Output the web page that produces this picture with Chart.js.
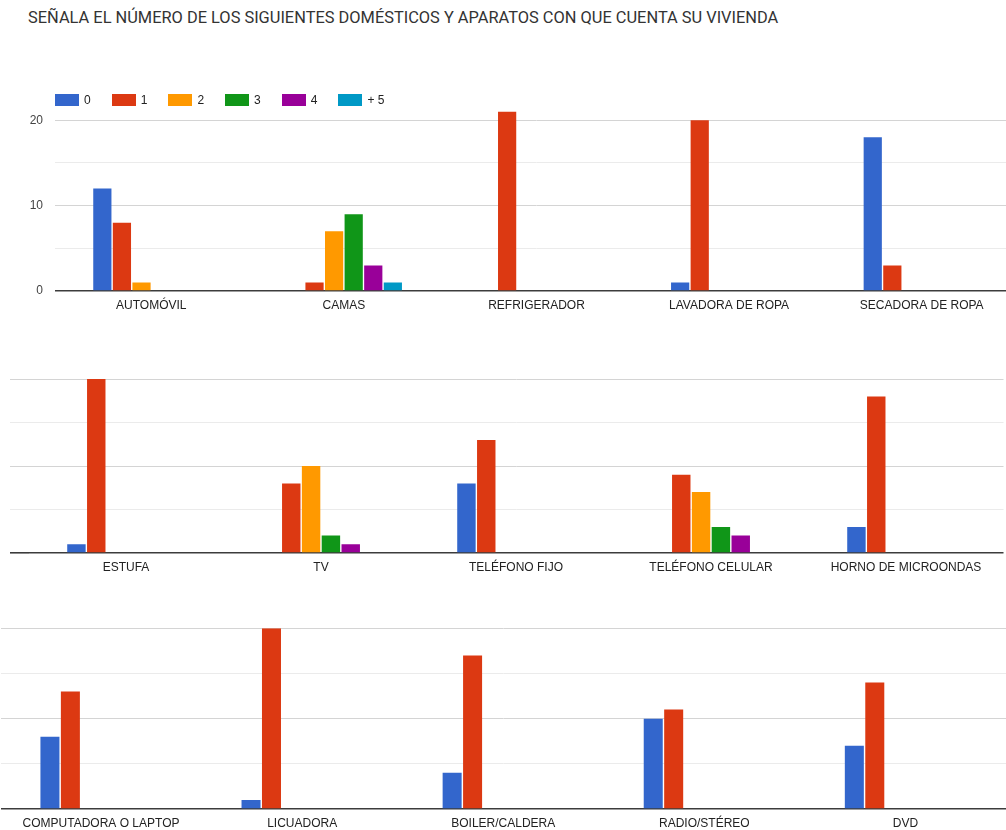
<!DOCTYPE html>
<html>
<head>
<meta charset="utf-8">
<script src="https://cdn.jsdelivr.net/npm/chart.js@4.4.0/dist/chart.umd.min.js"></script>
<style>
  body { margin: 0; width: 1006px; height: 830px; overflow: hidden; background: #fff; position: relative; font-family: "Liberation Sans", Arial, sans-serif; }
  #title { position: absolute; left: 28px; top: 8px; font: 16.4px Roboto, sans-serif; color: #333; white-space: nowrap; }
  #legend { position: absolute; left: 55px; top: 93px; display: flex; font-size: 12px; color: #222; z-index: 2; }
  .item { display: flex; align-items: center; width: 56.7px; height: 13px; }
  .item i { display: inline-block; width: 24px; height: 12px; margin-right: 5px; }
  canvas { position: absolute; left: 0; }
</style>
</head>
<body>
<div id="title">SEÑALA EL NÚMERO DE LOS SIGUIENTES DOMÉSTICOS Y APARATOS CON QUE CUENTA SU VIVIENDA</div>
<div id="legend"></div>
<canvas id="chart1" width="1020" height="237" style="top:84px"></canvas>
<canvas id="chart2" width="1006" height="208" style="top:375px"></canvas>
<canvas id="chart3" width="1008" height="215" style="top:624px"></canvas>
<script>
// answer options (how many of each item the household has)
const seriesNames = ['0', '1', '2', '3', '4', '+ 5'];
const seriesColors = ['#3366cc', '#dc3912', '#ff9900', '#109618', '#990099', '#0099c6'];

const categories1 = ['AUTOMÓVIL', 'CAMAS', 'REFRIGERADOR', 'LAVADORA DE ROPA', 'SECADORA DE ROPA'];
const categories2 = ['ESTUFA', 'TV', 'TELÉFONO FIJO', 'TELÉFONO CELULAR', 'HORNO DE MICROONDAS'];
const categories3 = ['COMPUTADORA O LAPTOP', 'LICUADORA', 'BOILER/CALDERA', 'RADIO/STÉREO', 'DVD'];

// one row per answer option, values in category order
const counts1 = [
    [12, 0, 0, 1, 18],
    [8, 1, 21, 20, 3],
    [1, 7, 0, 0, 0],
    [0, 9, 0, 0, 0],
    [0, 3, 0, 0, 0],
    [0, 1, 0, 0, 0]
];
const counts2 = [
    [1, 0, 8, 0, 3],
    [20, 8, 13, 9, 18],
    [0, 10, 0, 7, 0],
    [0, 2, 0, 3, 0],
    [0, 1, 0, 2, 0],
    [0, 0, 0, 0, 0]
];
const counts3 = [
    [8, 1, 4, 10, 7],
    [13, 20, 17, 11, 14],
    [0, 0, 0, 0, 0],
    [0, 0, 0, 0, 0],
    [0, 0, 0, 0, 0],
    [0, 0, 0, 0, 0]
];

const yTicks = [0, 10, 20];

// legend shared by the three charts
const legendEl = document.getElementById('legend');
seriesNames.forEach((name, i) => {
    const item = document.createElement('span');
    item.className = 'item';
    item.innerHTML = `<i style="background:${seriesColors[i]}"></i>${name}`;
    legendEl.appendChild(item);
});

function makeChart(canvasId, labels, counts, cfg) {
    const ctx = document.getElementById(canvasId).getContext('2d');
    return new Chart(ctx, {
        type: 'bar',
        data: {
            labels: labels,
            datasets: counts.map((row, i) => ({
                label: seriesNames[i],
                data: row,
                backgroundColor: seriesColors[i],
                borderWidth: 0,
                categoryPercentage: 0.61,
                barPercentage: 0.93
            }))
        },
        options: {
            responsive: false,
            animation: false,
            layout: { padding: cfg.padding },
            plugins: { legend: { display: false }, tooltip: { enabled: false } },
            scales: {
                x: {
                    grid: { display: false, drawTicks: false },
                    border: { display: false },
                    ticks: {
                        color: '#222',
                        font: { family: '"Liberation Sans", Arial, sans-serif', size: 12 },
                        padding: 7.5,
                        maxRotation: 0,
                        autoSkip: false
                    },
                    afterFit: (scale) => { scale.height = 30; }
                },
                y: {
                    min: 0,
                    max: cfg.max,
                    border: { display: false },
                    grid: {
                        color: (c) => !c.tick ? '#ebebeb' : c.tick.value === 0 ? '#3c3c3c' : (c.tick.value % 10 === 0 ? '#d4d4d4' : '#ebebeb'),
                        lineWidth: (c) => c.tick && c.tick.value === 0 ? 1.6 : 1,
                        drawTicks: cfg.tickLength > 0,
                        tickLength: cfg.tickLength
                    },
                    ticks: {
                        display: cfg.showLabels,
                        stepSize: 5,
                        includeBounds: false,
                        color: '#444',
                        padding: 12,
                        font: { family: '"Liberation Sans", Arial, sans-serif', size: 12 },
                        callback: (v) => yTicks.includes(v) ? v : ''
                    },
                    afterFit: (scale) => { scale.width = cfg.axisWidth; }
                }
            }
        }
    });
}

makeChart('chart1', categories1, counts1, { max: 22, showLabels: true, tickLength: 0, axisWidth: 55, padding: { top: 0, right: 2 } });
makeChart('chart2', categories2, counts2, { max: 20, showLabels: false, tickLength: 18.5, axisWidth: 28.5, padding: { top: 4, right: 2.5 } });
makeChart('chart3', categories3, counts3, { max: 20, showLabels: false, tickLength: 0, axisWidth: 0.5, padding: { top: 4.3, right: 2 } });
</script>
</body>
</html>
